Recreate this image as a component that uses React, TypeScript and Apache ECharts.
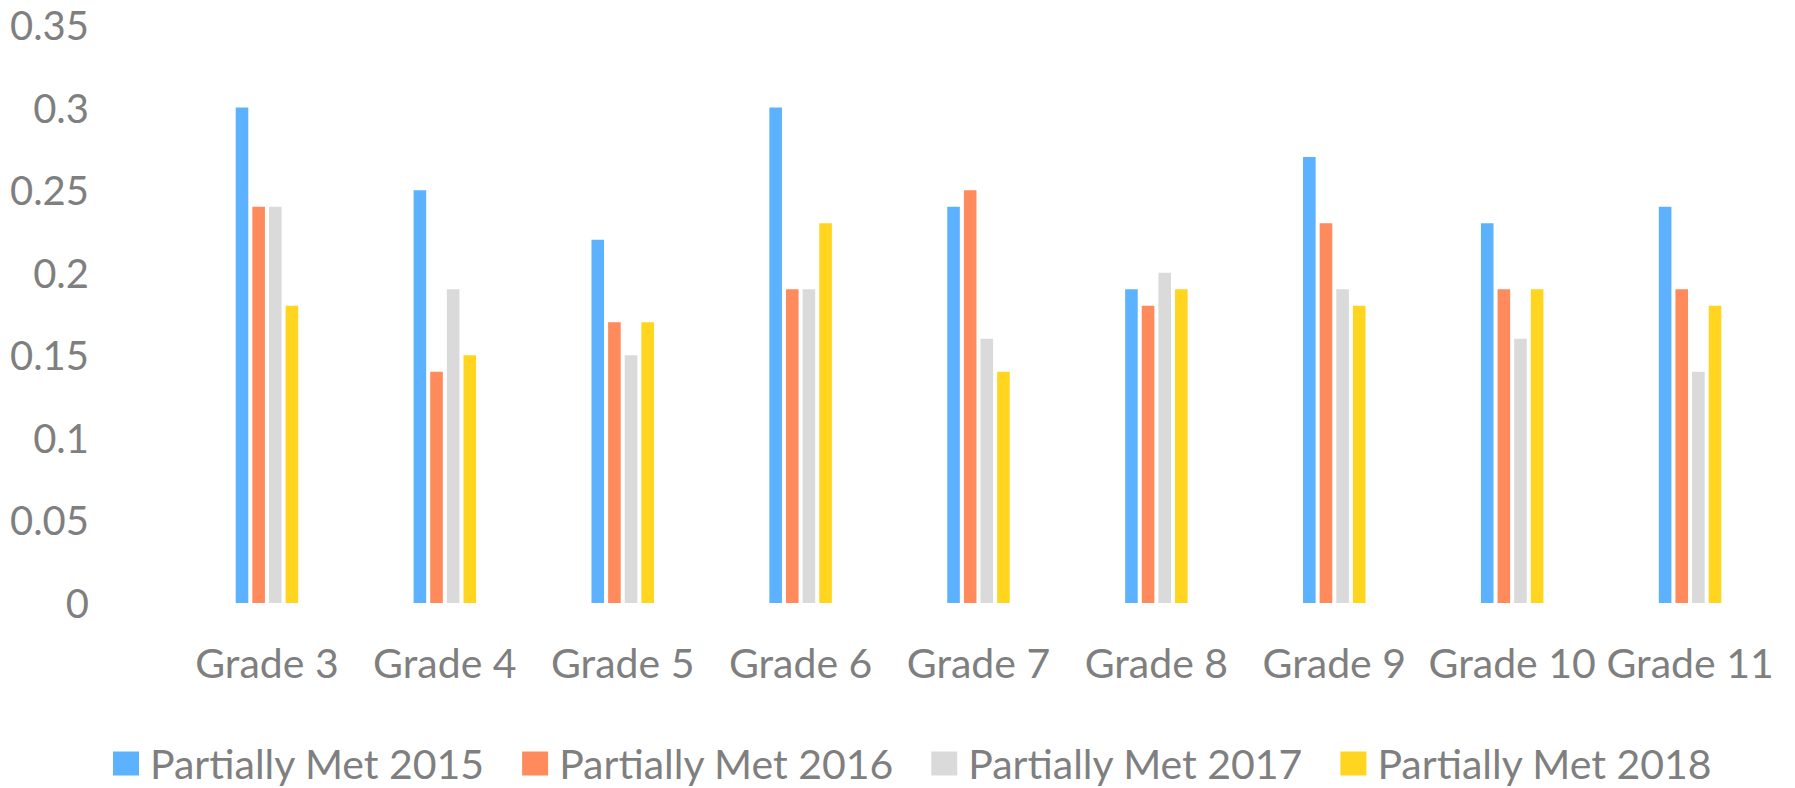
import React, { useEffect, useRef } from "react";
import * as echarts from "echarts";

const categories = ["Grade 3", "Grade 4", "Grade 5", "Grade 6", "Grade 7", "Grade 8", "Grade 9", "Grade 10", "Grade 11"];
const seriesNames = ["Partially Met 2015", "Partially Met 2016", "Partially Met 2017", "Partially Met 2018"];
const met2015 = [0.3, 0.25, 0.22, 0.3, 0.24, 0.19, 0.27, 0.23, 0.24];
const met2016 = [0.24, 0.14, 0.17, 0.19, 0.25, 0.18, 0.23, 0.19, 0.19];
const met2017 = [0.24, 0.19, 0.15, 0.19, 0.16, 0.2, 0.19, 0.16, 0.14];
const met2018 = [0.18, 0.15, 0.17, 0.23, 0.14, 0.19, 0.18, 0.19, 0.18];
const colors = ["#5DB2FF", "#FF8A5C", "#DADADA", "#FFD51F"];

const FONT = "Lato";
const TEXT_COLOR = "#7f7f7f";

export default function App() {
  const ref = useRef<HTMLDivElement>(null);
  useEffect(() => {
    if (!ref.current) return;
    const chart = echarts.init(ref.current, null, { renderer: "svg" });
    const data = [met2015, met2016, met2017, met2018];
    chart.setOption({
      animation: false,
      backgroundColor: "#ffffff",
      grid: { left: 178, right: 16, top: 25, bottom: 185, containLabel: false },
      legend: {
        data: seriesNames,
        left: 113,
        top: 743,
        padding: 0,
        itemWidth: 26,
        itemHeight: 24,
        itemGap: 37,
        icon: "rect",
        textStyle: { fontFamily: FONT, fontSize: 41, color: TEXT_COLOR, padding: [0, 0, 0, 6] },
      },
      xAxis: {
        type: "category",
        data: categories,
        axisLine: { show: false },
        axisTick: { show: false },
        splitLine: { show: false },
        axisLabel: { fontFamily: FONT, fontSize: 41, color: TEXT_COLOR, margin: 39, interval: 0 },
      },
      yAxis: {
        type: "value",
        min: 0,
        max: 0.35,
        interval: 0.05,
        axisLine: { show: false },
        axisTick: { show: false },
        splitLine: { show: false },
        axisLabel: {
          fontFamily: FONT,
          fontSize: 40,
          color: TEXT_COLOR,
          margin: 89,
          formatter: (v: number) => String(+v.toFixed(2)),
        },
      },
      series: seriesNames.map((name, i) => ({
        name,
        type: "bar",
        data: data[i],
        barWidth: 12.6,
        barGap: "32%",
        itemStyle: { color: colors[i] },
      })),
    });
    return () => chart.dispose();
  }, []);
  return <div ref={ref} style={{ position: "fixed", left: 0, top: 0, width: 1795, height: 788 }} />;
}
